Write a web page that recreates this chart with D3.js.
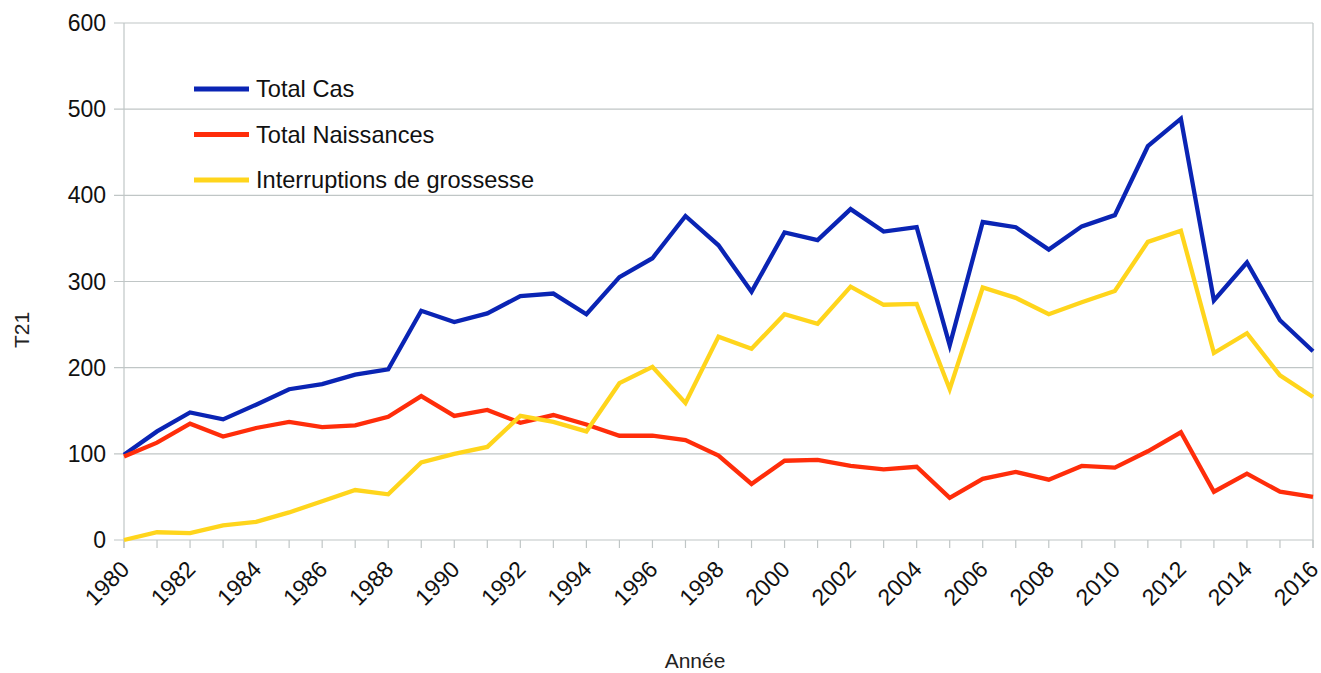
<!DOCTYPE html>
<html><head><meta charset="utf-8">
<script src="https://cdn.jsdelivr.net/npm/d3@7"></script>
<style>body{margin:0;background:#fff;} text{font-family:"Liberation Sans",Arial,sans-serif;}</style>
</head><body>
<svg id="c" width="1321" height="673"></svg>
<script>
const years = d3.range(1980, 2017);
const totalCas = [99,126,148,140,157,175,181,192,198,266,253,263,283,286,262,305,327,376,342,288,357,348,384,358,363,226,369,363,337,364,377,457,489,278,322,255,219];
const totalNaissances = [97,113,135,120,130,137,131,133,143,167,144,151,136,145,134,121,121,116,98,65,92,93,86,82,85,49,71,79,70,86,84,103,125,56,77,56,50];
const interruptions = [0,9,8,17,21,32,45,58,53,90,100,108,144,137,126,182,201,159,236,222,262,251,294,273,274,175,293,281,262,276,289,346,359,217,240,191,166];
const yTicks = [0,100,200,300,400,500,600];
const series = [
  {name:"Total Cas", values: totalCas, color:"#0a24b4"},
  {name:"Total Naissances", values: totalNaissances, color:"#ff2d0a"},
  {name:"Interruptions de grossesse", values: interruptions, color:"#ffd51c"}
];
const svg = d3.select("#c");
const L=124, R=1313, T=23, B=540;
const x = d3.scaleLinear().domain([1980,2016]).range([L,R]);
const y = d3.scaleLinear().domain([0,600]).range([B,T]);
const grid="#c0c6c6";
svg.append("g").selectAll("line").data(yTicks).join("line")
  .attr("x1",L-10).attr("x2",R).attr("y1",d=>y(d)).attr("y2",d=>y(d))
  .attr("stroke",grid).attr("stroke-width",1.2);
svg.append("line").attr("x1",L).attr("x2",L).attr("y1",T).attr("y2",B+8).attr("stroke",grid).attr("stroke-width",1.2);
svg.append("line").attr("x1",R).attr("x2",R).attr("y1",T).attr("y2",B+8).attr("stroke",grid).attr("stroke-width",1.2);
svg.append("g").selectAll("line").data(years).join("line")
  .attr("x1",d=>x(d)).attr("x2",d=>x(d)).attr("y1",B).attr("y2",B+8)
  .attr("stroke",grid).attr("stroke-width",1.2);
svg.append("g").selectAll("text").data(yTicks).join("text")
  .attr("x",L-18).attr("y",d=>y(d)).attr("dy","0.35em").attr("text-anchor","end")
  .attr("font-size",23).attr("fill","#111").text(d=>d);
svg.append("g").selectAll("text").data(years.filter(d=>d%2===0)).join("text")
  .attr("transform",d=>`translate(${x(d)+1},${B+25}) rotate(-45)`)
  .attr("text-anchor","end").attr("dy","0.35em")
  .attr("font-size",23).attr("fill","#111").text(d=>d);
svg.append("text").attr("x",695).attr("y",668).attr("text-anchor","middle").attr("font-size",21).attr("fill","#222").text("Année");
svg.append("text").attr("transform","translate(29,330) rotate(-90)").attr("text-anchor","middle").attr("font-size",21).attr("fill","#222").text("T21");
const line = d3.line().x((d,i)=>x(years[i])).y(d=>y(d));
svg.append("g").selectAll("path").data(series).join("path")
  .attr("d",d=>line(d.values)).attr("fill","none").attr("stroke",d=>d.color)
  .attr("stroke-width",4.3).attr("stroke-linejoin","miter").attr("stroke-linecap","butt");
const lg = svg.append("g").selectAll("g").data(series).join("g")
  .attr("transform",(d,i)=>`translate(194,${89+i*45.5})`);
lg.append("line").attr("x1",0).attr("x2",55).attr("stroke",d=>d.color).attr("stroke-width",5);
lg.append("text").attr("x",62).attr("dy","0.35em").attr("font-size",23.6).attr("fill","#111").text(d=>d.name);
</script>
</body></html>
